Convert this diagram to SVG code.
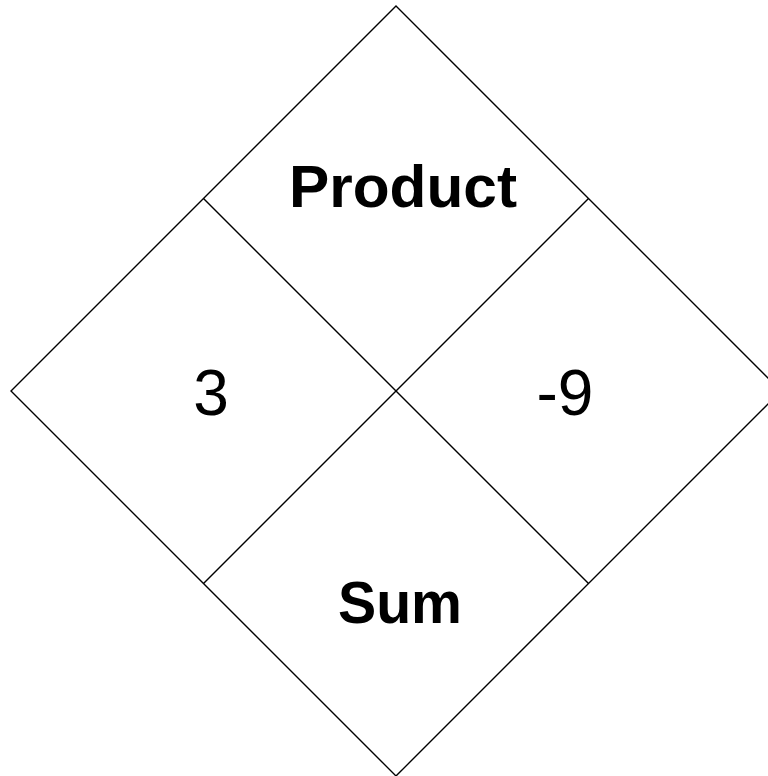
<svg xmlns="http://www.w3.org/2000/svg" width="768" height="776" viewBox="0 0 768 776">
<style>
.ln{stroke:#000;stroke-width:1.4;fill:none}
.t{font-family:"Comic Sans MS","Liberation Sans",Arial,sans-serif;fill:#000;text-anchor:middle}
.b{font-weight:bold}
</style>
<rect width="768" height="776" fill="#fff"/>
<g id="connectors">
<polygon class="ln" points="396,6 781,391 396,776 11,391"/>
<line class="ln" x1="203.5" y1="198.5" x2="588.5" y2="583.5"/>
<line class="ln" x1="588.5" y1="198.5" x2="203.5" y2="583.5"/>
</g>
<g id="product"><text class="t b" x="403" y="207" font-size="60" textLength="228" lengthAdjust="spacingAndGlyphs">Product</text></g>
<g id="left"><text class="t" x="211" y="415" font-size="64">3</text></g>
<g id="right"><text class="t" x="565" y="415" font-size="64">-9</text></g>
<g id="sum"><text class="t b" x="400" y="623" font-size="60" textLength="124" lengthAdjust="spacingAndGlyphs">Sum</text></g>
</svg>
